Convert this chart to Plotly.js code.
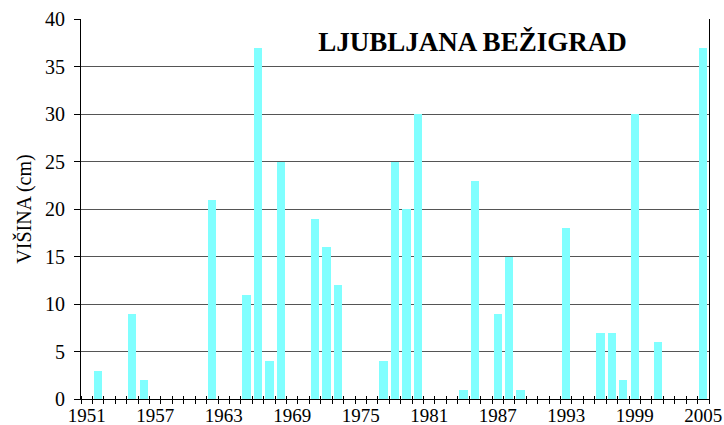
<!DOCTYPE html>
<html>
<head>
<meta charset="utf-8">
<script src="https://cdn.plot.ly/plotly-3.0.1.min.js"></script>
<style>html,body{margin:0;padding:0;background:#fff;}#chart{width:724px;height:425px;}</style>
</head>
<body>
<div id="chart"></div>
<script>
// Years with snow depth (others are 0)
const years = [1952,1955,1956,1962,1965,1966,1967,1968,1971,1972,1973,1977,1978,1979,1980,1984,1985,1987,1988,1989,1993,1996,1997,1998,1999,2001,2005];
const values = [3,9,2,21,11,37,4,25,19,16,12,4,25,20,30,1,23,9,15,1,18,7,7,2,30,6,37];
const tickYears = [1951,1957,1963,1969,1975,1981,1987,1993,1999,2005];
const tickLabels = ['1951','1957','1963','1969','1975','1981','1987','1993','1999','2005'];
const chartTitle = 'LJUBLJANA BEŽIGRAD';
const yTitle = 'VIŠINA (cm)';

const serif = 'Times New Roman';

const trace = {
  type: 'bar',
  x: years,
  y: values,
  width: 0.72,
  marker: {color: '#80FFFF', line: {width: 0}},
  hoverinfo: 'x+y'
};

const layout = {
  width: 724, height: 425,
  margin: {l: 81, r: 15, t: 19, b: 26, pad: 0},
  paper_bgcolor: '#ffffff',
  plot_bgcolor: '#ffffff',
  showlegend: false,
  bargap: 0,
  font: {family: serif, color: '#000'},
  title: {
    text: '<b>' + chartTitle + '</b>',
    font: {family: serif, size: 27, color: '#000'},
    x: 472.5/724, xref: 'container', xanchor: 'center',
    y: 1 - 42/425, yref: 'container', yanchor: 'middle'
  },
  xaxis: {
    type: 'linear',
    range: [1950.5, 2005.5],
    tickmode: 'array',
    tickvals: tickYears,
    ticktext: tickLabels,
    ticks: '',
    ticklabelstandoff: -1,
    showgrid: false,
    zeroline: false,
    showline: true,
    linecolor: '#000',
    linewidth: 1,
    automargin: false,
    tickfont: {family: serif, size: 19, color: '#000'},
    minor: {tickmode: 'linear', tick0: 1950.5, dtick: 1, ticks: 'outside', ticklen: 4, tickcolor: '#000', tickwidth: 1, showgrid: false}
  },
  xaxis2: {
    type: 'linear',
    overlaying: 'x',
    anchor: 'y',
    side: 'bottom',
    range: [1950.5, 2005.5],
    showticklabels: false,
    showgrid: false,
    zeroline: false,
    showline: false,
    ticks: '',
    automargin: false,
    minor: {tickmode: 'linear', tick0: 1950.5, dtick: 1, ticks: 'inside', ticklen: 3, tickcolor: '#000', tickwidth: 1, showgrid: false}
  },
  yaxis: {
    range: [0, 40],
    tickmode: 'linear', tick0: 0, dtick: 5,
    ticks: 'outside', ticklen: 6, tickcolor: '#000',
    ticklabelstandoff: 5,
    showgrid: true, gridcolor: '#555', gridwidth: 1,
    zeroline: false,
    showline: true, linecolor: '#000', linewidth: 1, mirror: true,
    automargin: false,
    tickfont: {family: serif, size: 20, color: '#000'},
    title: {text: yTitle, font: {family: serif, size: 20, color: '#000'}, standoff: 8}
  }
};

const dummy = {type: 'scatter', x: [], y: [], xaxis: 'x2', yaxis: 'y', showlegend: false};

Plotly.newPlot('chart', [trace, dummy], layout, {displayModeBar: false, staticPlot: true});
</script>
</body>
</html>
